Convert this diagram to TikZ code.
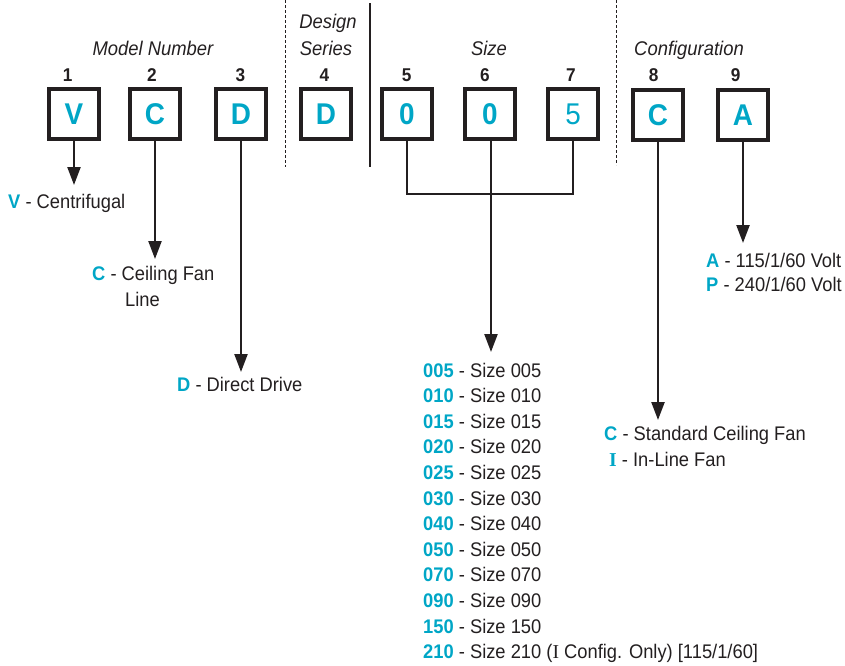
\documentclass[tikz,border=0pt]{standalone}
\usepackage{fontspec}
\setmainfont{Liberation Sans}[FakeStretch=0.93]
\newfontfamily\serifI{Liberation Serif}
\usetikzlibrary{arrows.meta}
\definecolor{cy}{RGB}{0,166,198}
\definecolor{ink}{RGB}{35,31,32}
\tikzset{
  codebox/.style={draw=ink, line width=4pt, minimum size=50pt, inner sep=0pt,
    font=\fontsize{30}{30}\selectfont\bfseries, text=cy},
  numlbl/.style={anchor=base, font=\fontsize{18.5}{18.5}\selectfont\bfseries, text=ink, inner sep=0pt},
  hdr/.style={anchor=base, font=\fontsize{19.8}{19.8}\selectfont\itshape, text=ink, inner sep=0pt},
  desc/.style={anchor=base west, font=\fontsize{19.7}{19.7}\selectfont, text=ink, inner sep=0pt},
  conn/.style={draw=ink, line width=2.3pt},
  arr/.style={conn, -{Triangle[width=13pt,length=18pt]}},
  sepdash/.style={draw=ink, line width=1pt, dash pattern=on 3pt off 2pt},
  sepline/.style={draw=ink, line width=1.6pt},
}
\newcommand{\cc}[1]{\textcolor{cy}{\bfseries #1}}
\begin{document}
\begin{tikzpicture}[x=1pt, y=-1pt]
\useasboundingbox (0,0) rectangle (845,665);

% headers
\node[hdr] (hModel) at (153,55) {Model Number};
\node[hdr] (hDesign) at (328,28.5) {Design};
\node[hdr] (hSeries) at (326,55) {Series};
\node[hdr] (hSize) at (489,55) {Size};
\node[hdr] (hConf) at (689,55) {Configuration};

% separators
\coordinate (d1t) at (285.7,0); \coordinate (d1b) at (285.7,167);
\coordinate (s1t) at (370,3); \coordinate (s1b) at (370,167);
\coordinate (d2t) at (616.7,0); \coordinate (d2b) at (616.7,165);
\draw[sepdash] (d1t) -- (d1b);
\draw[sepline] (s1t) -- (s1b);
\draw[sepdash] (d2t) -- (d2b);

% boxes
\node[codebox] (b1) at (74,114) {V};
\node[codebox] (b2) at (155,114) {C};
\node[codebox] (b3) at (241,114) {D};
\node[codebox] (b4) at (326,114) {D};
\node[codebox] (b5) at (407,114) {0};
\node[codebox] (b6) at (490,114) {0};
\node[codebox] (b7) at (573,114) {\mdseries 5};
\node[codebox] (b8) at (658,115) {C};
\node[codebox] (b9) at (743,115) {A};

% numbers
\node[numlbl] (n1) at (67.7,81) {1};
\node[numlbl] (n2) at (152,81) {2};
\node[numlbl] (n3) at (240.5,81) {3};
\node[numlbl] (n4) at (324.5,81) {4};
\node[numlbl] (n5) at (406.7,81) {5};
\node[numlbl] (n6) at (485,81) {6};
\node[numlbl] (n7) at (571,81) {7};
\node[numlbl] (n8) at (653.7,81) {8};
\node[numlbl] (n9) at (735.7,81) {9};

% arrow tips
\coordinate (tV) at (74,185);
\coordinate (tC) at (155,259);
\coordinate (tD) at (241,372);
\coordinate (tS) at (491,352);
\coordinate (tConf) at (658,420);
\coordinate (tVolt) at (743,243);
\coordinate (brL) at (407,194);

\draw[arr] (b1.south) -- (tV);
\draw[arr] (b2.south) -- (tC);
\draw[arr] (b3.south) -- (tD);
\draw[conn] (b5.south) -- (brL) -| (b7.south);
\draw[arr] (b6.south -| tS) -- (tS);
\draw[arr] (b8.south) -- (tConf);
\draw[arr] (b9.south) -- (tVolt);

% descriptions
\node[desc] (lV) at (8,208) {\cc{V} - Centrifugal};
\node[desc] (lC) at (92,280.7) {\cc{C} - Ceiling Fan};
\node[desc] (lC2) at (125,306.7) {Line};
\node[desc] (lD) at (177,391.7) {\cc{D} - Direct Drive};

\node[desc] (lA) at (706,267.3) {\cc{A} - 115/1/60 Volt};
\node[desc] (lP) at (706,291.7) {\cc{P} - 240/1/60 Volt};

\node[desc] (lCS) at (604,440.7) {\cc{C} - Standard Ceiling Fan};
\node[desc] (lI) at (609,466.7) {\textcolor{cy}{\serifI\bfseries I} - In-Line Fan};

\node[desc] (z1) at (423,377) {\cc{005} - Size 005};
\node[desc] (z2) at (423,402.6) {\cc{010} - Size 010};
\node[desc] (z3) at (423,428.2) {\cc{015} - Size 015};
\node[desc] (z4) at (423,453.8) {\cc{020} - Size 020};
\node[desc] (z5) at (423,479.4) {\cc{025} - Size 025};
\node[desc] (z6) at (423,505) {\cc{030} - Size 030};
\node[desc] (z7) at (423,530.6) {\cc{040} - Size 040};
\node[desc] (z8) at (423,556.2) {\cc{050} - Size 050};
\node[desc] (z9) at (423,581.8) {\cc{070} - Size 070};
\node[desc] (z10) at (423,607.4) {\cc{090} - Size 090};
\node[desc] (z11) at (423,633) {\cc{150} - Size 150};
\node[desc] (z12) at (423,658.6) {\cc{210} - Size 210 ({\serifI I} Config. Only) [115/1/60]};
\end{tikzpicture}
\end{document}
